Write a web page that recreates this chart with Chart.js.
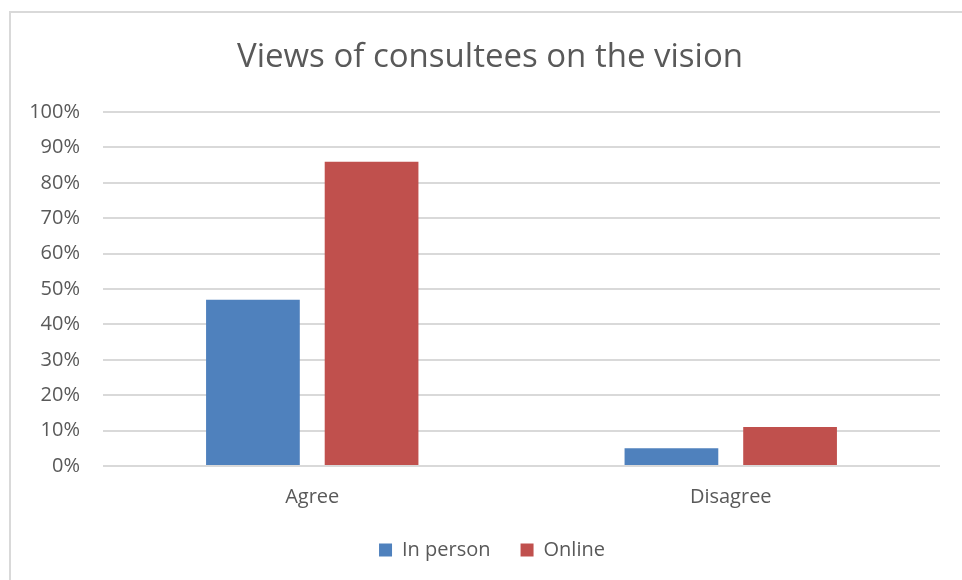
<!DOCTYPE html>
<html>
<head>
<meta charset="utf-8">
<title>Views of consultees on the vision</title>
<script src="https://cdn.jsdelivr.net/npm/chart.js@4/dist/chart.umd.min.js"></script>
<style>
  html, body { margin: 0; padding: 0; background: #fff; }
  #wrap { width: 962px; height: 580px; }
</style>
</head>
<body>
<div id="wrap"><canvas id="bars"></canvas></div>
<script>
const categories = ['Agree', 'Disagree'];
const inPerson = [0.47, 0.05];
const online = [0.86, 0.11];
const seriesNames = ['In person', 'Online'];

const FONT = "'Open Sans', 'Liberation Sans', sans-serif";
const TEXT = '#595959';

// thin frame round the chart, like an Excel chart border
const framePlugin = {
  id: 'frame',
  // centre title and legend on the whole frame, not just the padded area
  afterLayout(chart) {
    if (chart.titleBlock) {
      chart.titleBlock.left += 14;
      chart.titleBlock.right += 14;
    }
    if (chart.legend) {
      chart.legend.left += 16;
      chart.legend.right += 16;
    }
  },
  beforeDraw(chart) {
    const ctx = chart.ctx;
    ctx.save();
    ctx.fillStyle = '#fff';
    ctx.fillRect(0, 0, chart.width, chart.height);
    ctx.strokeStyle = '#d9d9d9';
    ctx.lineWidth = 2;
    ctx.strokeRect(10, 12, chart.width + 10, chart.height + 10);
    ctx.restore();
  }
};

const barCtx = document.getElementById('bars');
window.myBars = new Chart(barCtx, {
  type: 'bar',
  data: {
    labels: categories,
    datasets: [
      { label: seriesNames[0], data: inPerson, backgroundColor: '#4f81bd' },
      { label: seriesNames[1], data: online, backgroundColor: '#c0504d' },
    ],
  },
  options: {
    responsive: true,
    maintainAspectRatio: false,
    animation: false,
    categoryPercentage: 0.567,
    barPercentage: 0.79,
    layout: { padding: { top: 12, left: 12, right: 22, bottom: 10 } },
    plugins: {
      title: {
        display: true,
        text: 'Views of consultees on the vision',
        color: TEXT,
        font: { family: FONT, size: 33, weight: 'normal' },
        padding: { top: 26, bottom: 34.5 },
      },
      legend: {
        position: 'bottom',
        labels: {
          color: TEXT,
          font: { family: FONT, size: 20 },
          boxWidth: 13,
          boxHeight: 13,
          padding: 30,
        },
      },
      tooltip: { enabled: false },
    },
    scales: {
      x: {
        afterFit(scale) { scale.height = 44; },
        grid: { display: false, drawTicks: false },
        border: { display: false },
        ticks: { color: TEXT, font: { family: FONT, size: 20 }, padding: 19 },
      },
      y: {
        min: 0,
        max: 1,
        afterFit(scale) { scale.width = 91; },
        grid: { color: '#d9d9d9', lineWidth: 2, drawTicks: false },
        border: { display: false },
        ticks: {
          stepSize: 0.1,
          padding: 23,
          color: TEXT,
          font: { family: FONT, size: 20 },
          callback: v => Math.round(v * 100) + '%',
        },
      },
    },
  },
  plugins: [framePlugin],
});
</script>
</body>
</html>
